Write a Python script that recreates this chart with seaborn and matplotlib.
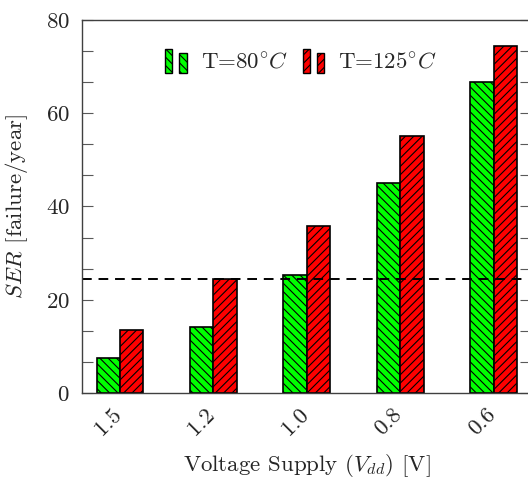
import matplotlib
matplotlib.use("Agg")
import matplotlib.pyplot as plt
from matplotlib.patches import Rectangle
from matplotlib.legend_handler import HandlerBase
from matplotlib.ticker import AutoMinorLocator
import matplotlib.transforms as mtransforms
import seaborn as sns
import pandas as pd

# Soft error rate per supply voltage at two temperatures
vdd_labels = ["1.5", "1.2", "1.0", "0.8", "0.6"]
ser_80 = [7.6, 14.1, 25.3, 45.0, 66.8]
ser_125 = [13.5, 24.4, 35.8, 55.1, 74.5]
series_names = [r"T=80$^{\circ}C$", r"T=125$^{\circ}C$"]
reference_level = 24.4
y_ticks = [0, 20, 40, 60, 80]

sns.set_style("ticks")
plt.rcParams.update({
    "font.family": "serif",
    "font.serif": ["cmr10"],
    "mathtext.fontset": "cm",
    "axes.formatter.use_mathtext": True,
    "hatch.linewidth": 0.8,
})

FS = 16.5

df = pd.DataFrame({
    "Vdd": vdd_labels * 2,
    "SER": ser_80 + ser_125,
    "T": [series_names[0]] * len(vdd_labels) + [series_names[1]] * len(vdd_labels),
})

colors = ["#00ff00", "#ff0000"]
hatches = ["\\\\\\\\", "////"]

fig = plt.figure(figsize=(5.28, 4.78), dpi=100)
ax = fig.add_axes([82 / 528, 85 / 478, (531 - 82) / 528, 373 / 478])

sns.barplot(data=df, x="Vdd", y="SER", hue="T", order=vdd_labels,
            hue_order=series_names, palette=colors, width=0.5,
            edgecolor="black", linewidth=1.2, saturation=1, ax=ax)

for container, h in zip(ax.containers, hatches):
    for bar in container:
        bar.set_hatch(h)

ax.axhline(reference_level, color="black", linestyle=(0, (5, 3.5)), linewidth=1.4)

ax.set_xlim(-0.406, 4.4)
ax.set_ylim(0, 80)
ax.set_yticks(y_ticks)
ax.yaxis.set_minor_locator(AutoMinorLocator(3))
ax.tick_params(axis="y", which="both", direction="in", left=True, right=True,
               length=8, width=0.8, color="0.35", labelsize=FS, pad=9)
ax.tick_params(axis="x", length=0, labelsize=FS, pad=8)
shift = mtransforms.ScaledTranslation(-6 / 72, 0, fig.dpi_scale_trans)
for lbl in ax.get_xticklabels():
    lbl.set_rotation(45)
    lbl.set_ha("right")
    lbl.set_rotation_mode("anchor")
    lbl.set_transform(lbl.get_transform() + shift)

for s in ax.spines.values():
    s.set_color("0.25")
    s.set_linewidth(1.0)
    s.set_visible(True)

ax.set_xlabel(r"Voltage Supply ($V_{dd}$) [V]", fontsize=FS, labelpad=10)
ax.set_ylabel(r"$SER$ [failure/year]", fontsize=FS, labelpad=11)


class PairedBarHandler(HandlerBase):
    def create_artists(self, legend, orig_handle, xdescent, ydescent,
                       width, height, fontsize, trans):
        kw = dict(facecolor=orig_handle.get_facecolor(), edgecolor="black",
                  hatch=orig_handle.get_hatch(), linewidth=1.0, transform=trans)
        y0 = -ydescent - height * 0.3
        r1 = Rectangle((-xdescent, y0), width * 0.3, height * 1.55, **kw)
        r2 = Rectangle((-xdescent + width * 0.58, y0), width * 0.32,
                       height * 1.25, **kw)
        return [r1, r2]


handles = [Rectangle((0, 0), 1, 1, facecolor=c, hatch=h) for c, h in zip(colors, hatches)]
ax.legend(handles, series_names, handler_map={Rectangle: PairedBarHandler()},
          loc="center", bbox_to_anchor=(301 / 528, 1 - 62 / 478),
          bbox_transform=fig.transFigure, ncol=2, frameon=False, fontsize=FS,
          handlelength=1.05, handletextpad=0.5, columnspacing=0.65)

fig.savefig("out.png", dpi=100)
